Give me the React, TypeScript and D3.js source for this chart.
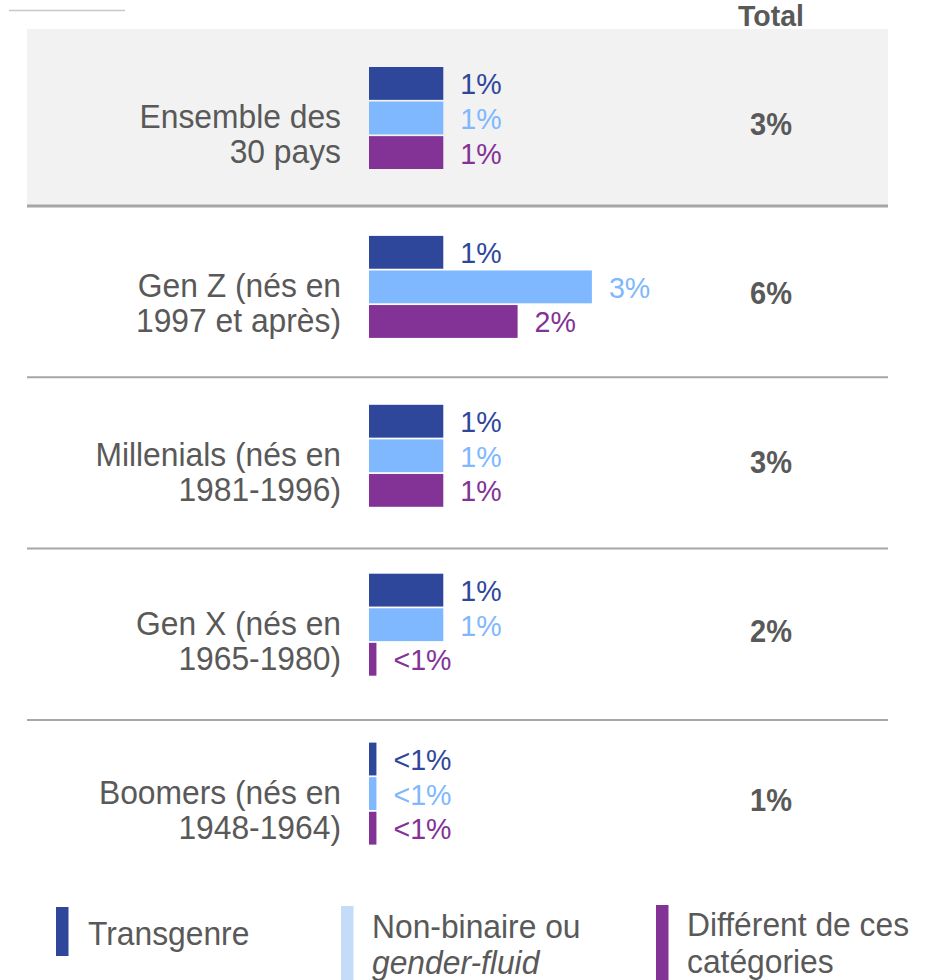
import React from "react";
import * as d3 from "d3";

const categories: string[][] = [
  ["Ensemble des", "30 pays"],
  ["Gen Z (nés en", "1997 et après)"],
  ["Millenials (nés en", "1981-1996)"],
  ["Gen X (nés en", "1965-1980)"],
  ["Boomers (nés en", "1948-1964)"],
];
const series = ["Transgenre", "Non-binaire ou gender-fluid", "Différent de ces catégories"];
// values in %, "<1%" drawn as 0.1
const transgenre = [1, 1, 1, 1, 0.1];
const nonBinaire = [1, 3, 1, 1, 0.1];
const different = [1, 2, 1, 0.1, 0.1];
const valueLabels: string[][] = [
  ["1%", "1%", "1%"],
  ["1%", "3%", "2%"],
  ["1%", "1%", "1%"],
  ["1%", "1%", "<1%"],
  ["<1%", "<1%", "<1%"],
];
const totals = ["3%", "6%", "3%", "2%", "1%"];

const barColors = ["#2f479b", "#7fb8fe", "#833296"];
const legendColors = ["#2f479b", "#c5dcf8", "#833296"];
const textGrey = "#595959";
const FONT = "'Liberation Sans', Arial, Helvetica, sans-serif";

const SY = 1.05;
function T(props: {
  x: number;
  y: number;
  children: React.ReactNode;
  size: number;
  fill: string;
  anchor?: string;
  weight?: string | number;
}) {
  const { x, y, children, size, fill, anchor = "start", weight = "normal" } = props;
  return (
    <text
      transform={`translate(${x},${y}) scale(1,${SY})`}
      fontSize={size}
      fill={fill}
      textAnchor={anchor}
      fontWeight={weight}
      fontFamily={FONT}
    >
      {children}
    </text>
  );
}

export default function App() {
  const W = 933;
  const H = 980;
  const values = categories.map((_, i) => [transgenre[i], nonBinaire[i], different[i]]);

  const rowCenter = d3.scaleLinear().domain([0, 1]).range([118, 118 + 168.9]);
  const sepY = d3.scaleLinear().domain([0, 1]).range([206, 206 + 171.3]);
  const x = d3.scaleLinear().domain([0, 1]).range([369, 443.3]);
  const band = d3
    .scaleBand<number>()
    .domain([0, 1, 2])
    .range([-51, 51])
    .paddingInner(0.05);

  const legendItems = [
    { x: 56, lines: ["Transgenre"], italic: [false], markerTop: 907, markerH: 49, textY: [945] },
    { x: 341, lines: ["Non-binaire ou", "gender-fluid"], italic: [false, true], markerTop: 906, markerH: 80, textY: [938, 974] },
    { x: 656, lines: ["Différent de ces", "catégories"], italic: [false, false], markerTop: 905, markerH: 80, textY: [936, 973] },
  ];

  return (
    <svg width={W} height={H} style={{ position: "absolute", left: 0, top: 0, background: "#fff" }}>
      <rect x={0} y={0} width={W} height={H} fill="#ffffff" />
      {/* top-left small line */}
      <line x1={9} x2={125} y1={10.5} y2={10.5} stroke="#c8c8c8" strokeWidth={1.5} />
      {/* grey panel for first row */}
      <rect x={27} y={29} width={861} height={177} fill="#f2f2f2" />
      {/* header */}
      <T x={771} y={26} size={28.5} fill={textGrey} anchor="middle" weight="bold">
        Total
      </T>
      {/* separators */}
      {[0, 1, 2, 3].map((i) => (
        <line
          key={i}
          x1={27}
          x2={888}
          y1={sepY(i)}
          y2={sepY(i)}
          stroke="#a6a6a6"
          strokeWidth={i === 0 ? 3 : 2}
        />
      ))}
      {categories.map((cat, i) => {
        const cy = rowCenter(i);
        return (
          <g key={i}>
            <T x={341} y={cy + 10} size={31.8} fill={textGrey} anchor="end">
              {cat[0]}
            </T>
            <T x={341} y={cy + 45} size={31.8} fill={textGrey} anchor="end">
              {cat[1]}
            </T>
            {values[i].map((v, j) => {
              const by = cy + (band(j) as number);
              const bh = band.bandwidth();
              return (
                <g key={j}>
                  <rect x={x(0)} y={by} width={x(v) - x(0)} height={bh} fill={barColors[j]} />
                  <T x={x(v) + 17} y={by + bh / 2 + 11} size={28.6} fill={barColors[j]}>
                    {valueLabels[i][j]}
                  </T>
                </g>
              );
            })}
            <T x={771} y={cy + 17} size={29} fill={textGrey} anchor="middle" weight="bold">
              {totals[i]}
            </T>
          </g>
        );
      })}
      {/* legend */}
      {legendItems.map((it, k) => (
        <g key={series[k]}>
          <rect x={it.x} y={it.markerTop} width={12.5} height={it.markerH} fill={legendColors[k]} />
          {it.lines.map((ln, m) => (
            <text
              key={m}
              transform={`translate(${it.x + (k === 0 ? 32 : 31)},${it.textY[m]}) scale(1,${SY})`}
              fontSize={31.8}
              fill={textGrey}
              fontFamily={FONT}
              fontStyle={it.italic[m] ? "italic" : "normal"}
            >
              {ln}
            </text>
          ))}
        </g>
      ))}
    </svg>
  );
}
